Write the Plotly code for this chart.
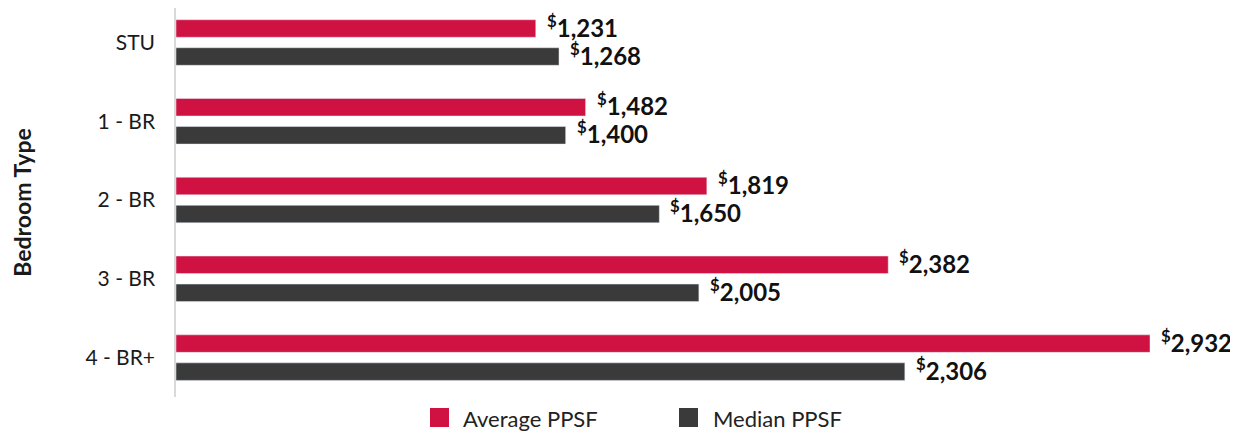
import plotly.graph_objects as go

# ---- data ----
categories = ["STU", "1 - BR", "2 - BR", "3 - BR", "4 - BR+"]
avg_labels = [1231, 1482, 1819, 2382, 2932]
med_labels = [1268, 1400, 1650, 2005, 2306]
# bar lengths as drawn in the reference (same units)
avg_bars = [1083, 1233, 1598, 2144, 2932]
med_bars = [1153, 1173, 1455, 1574, 2194]
series_names = ["Average PPSF", "Median PPSF"]
colors = ["#CF1242", "#3A3A3A"]

OFF = 8  # page body margin
W, H = 1238 - OFF, 433 - OFF
L, R, T, B = 168, 88, 0, 36
PW, PH = W - L - R, H - T - B
FONT = "Lato"

def px_x(px):
    return (px - OFF - L) / PW

def px_y(py):
    return (H - B - (py - OFF)) / PH

fig = go.Figure()
fig.add_trace(go.Bar(y=categories, x=avg_bars, orientation="h", name=series_names[0],
                     marker=dict(color=colors[0]), showlegend=False, hoverinfo="skip"))
fig.add_trace(go.Bar(y=categories, x=med_bars, orientation="h", name=series_names[1],
                     marker=dict(color=colors[1]), showlegend=False, hoverinfo="skip"))

annotations = []
for vals, labs, shift in ((avg_bars, avg_labels, 17), (med_bars, med_labels, -11)):
    for c, v, lab in zip(categories, vals, labs):
        annotations.append(dict(
            x=v, y=c, xref="x", yref="y", xanchor="left", yanchor="middle",
            xshift=9, yshift=shift, showarrow=False,
            text=f"<b><sup>$</sup>{lab:,}</b>",
            font=dict(family=FONT, size=24, color="#111111")))

# manual legend
legend_items = [(439.5, 463), (688.5, 713)]
shapes = []
for (cx, tx), name, col in zip(legend_items, series_names, colors):
    shapes.append(dict(type="rect", xref="paper", yref="paper",
                       xsizemode="pixel", ysizemode="pixel",
                       xanchor=px_x(cx), yanchor=px_y(417.5),
                       x0=-9.5, x1=9.5, y0=-9.5, y1=9.5,
                       fillcolor=col, line=dict(width=0)))
    annotations.append(dict(x=px_x(tx), y=px_y(418), xref="paper", yref="paper",
                            xanchor="left", yanchor="middle", showarrow=False,
                            xshift=-2,
                            text=name, font=dict(family=FONT, size=22, color="#222222")))

fig.update_layout(
    width=W, height=H,
    margin=dict(l=L, r=R, t=T, b=B, autoexpand=False),
    paper_bgcolor="white", plot_bgcolor="white",
    barmode="group", bargap=0.288, bargroupgap=0.375,
    showlegend=False,
    annotations=annotations, shapes=shapes,
    font=dict(family=FONT),
)
fig.update_xaxes(range=[0, 2932], visible=False, showgrid=False, zeroline=False)
fig.update_yaxes(range=[4.5, -0.438], showgrid=False, zeroline=False,
                 showline=True, linecolor="#D9D9D9", linewidth=1.5,
                 ticks="", ticklabelstandoff=15,
                 tickfont=dict(family=FONT, size=21, color="#1A1A1A"),
                 title=dict(text="<b>Bedroom Type</b>", standoff=54,
                            font=dict(family=FONT, size=23, color="#1A1A1A")))

fig.write_html("out.html")
